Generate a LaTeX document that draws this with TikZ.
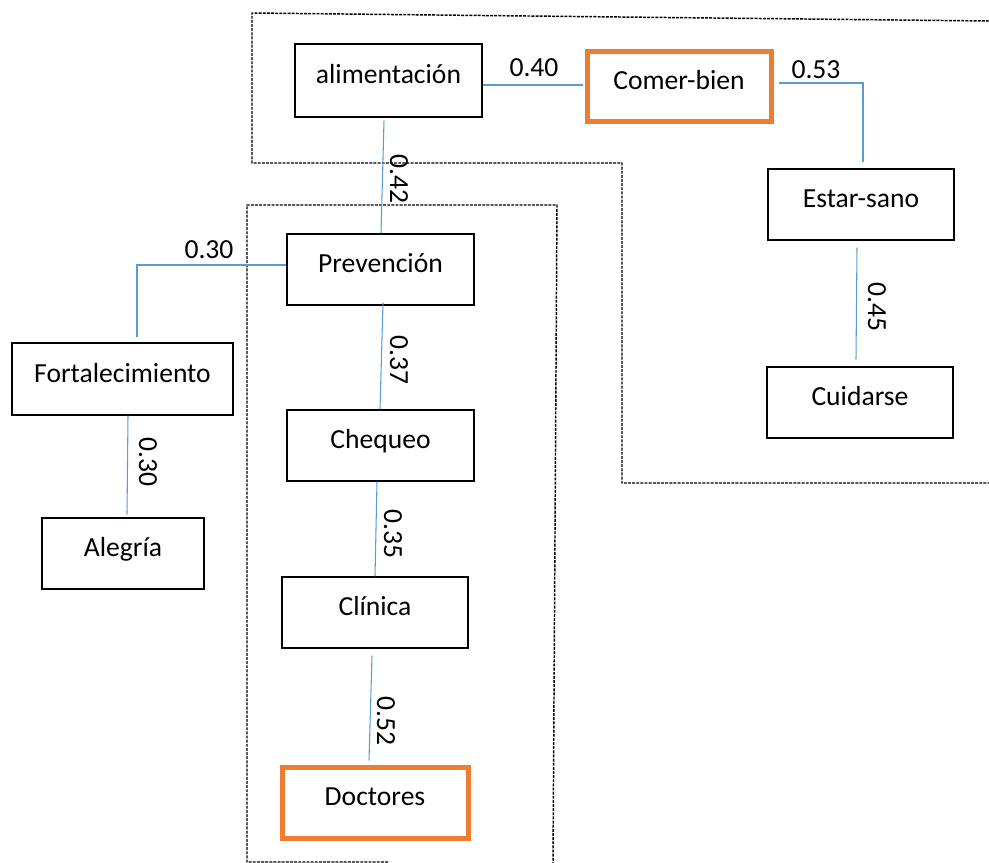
\documentclass[tikz,border=0pt]{standalone}
\usepackage{fontspec}
\setmainfont{Carlito}
\usetikzlibrary{calc}
\definecolor{linkblue}{HTML}{5B9BD5}
\definecolor{accent}{HTML}{ED7D31}
\begin{document}
\begin{tikzpicture}[x=0.75pt,y=-0.75pt,
  every node/.style={font=\fontsize{20.7pt}{24pt}\selectfont, inner sep=0pt},
  concept/.style={draw=black, line width=1pt, text height=15pt, text depth=10.5pt,
                  minimum width=139.5pt, minimum height=53.25pt},
  key/.style={concept, draw=accent, line width=3.75pt},
  conn/.style={draw=linkblue, line width=0.8pt},
  zone/.style={draw=black, line width=1.1pt, dash pattern=on 2.2pt off 0.9pt},
  weight/.style={},
  vweight/.style={rotate=-90}]
\useasboundingbox (0,0) rectangle (989,863);

% dashed grouping outlines
\draw[zone] (989,21) -- (252,13) -- (252,163) -- (622,163) -- (622,483) -- (989,483);
\draw[zone] (388,862) -- (247,862) -- (247,205) -- (557,205) -- (553,863);

% concepts
\node[concept, minimum width=140.25pt, minimum height=54.75pt] (alim) at (388.5,80.5) {alimentación};
\node[key, minimum width=138pt, minimum height=52.5pt] (comer) at (679,87) {Comer-bien};
\node[concept] (estar) at (861,204.5) {Estar-sano};
\node[concept] (cuid) at (860,402.5) {Cuidarse};
\node[concept, minimum width=140.25pt] (prev) at (380.5,269.5) {Prevención};
\node[concept, minimum width=165.75pt, minimum height=54pt] (fort) at (122.5,379) {Fortalecimiento};
\node[concept, minimum width=121.5pt] (aleg) at (123,553.5) {Alegría};
\node[concept, minimum width=140.25pt] (cheq) at (380.5,445.5) {Chequeo};
\node[concept] (clin) at (375,612.5) {Clínica};
\node[key] (doct) at (375,802.5) {Doctores};

% links
\draw[conn] (alim.east |- 0,85) -- ($(comer.west |- 0,85)+(-2,0)$);
\draw[conn] ($(comer.east |- 0,83)+(5,0)$) -| ($(estar.north -| 863,0)+(0,-6)$);
\draw[conn] ($(alim.south -| 384,0)+(0,3)$) -- (prev.north -| 381,0);
\draw[conn] (prev.west |- 0,265) -| ($(fort.north -| 137,0)+(0,-5)$);
\draw[conn] (fort.south -| 128,0) -- ($(aleg.north -| 127,0)+(0,-3)$);
\draw[conn] ($(prev.south -| 383,0)+(0,-3)$) -- (cheq.north -| 380,0);
\draw[conn] (cheq.south -| 377,0) -- (clin.north -| 375,0);
\draw[conn] ($(clin.south -| 372,0)+(0,7)$) -- ($(doct.north -| 369,0)+(0,-4)$);
\draw[conn] ($(estar.south -| 857,0)+(0,7)$) -- ($(cuid.north -| 856,0)+(0,-7)$);

% weights
\node[weight] (w1) at (534,68) {0.40};
\node[weight] (w2) at (816,70) {0.53};
\node[vweight] (w3) at (399,179) {0.42};
\node[weight] (w4) at (209,250) {0.30};
\node[vweight] (w5) at (148,462) {0.30};
\node[vweight] (w6) at (399,360) {0.37};
\node[vweight] (w7) at (393,534) {0.35};
\node[vweight] (w8) at (386,721) {0.52};
\node[vweight] (w9) at (877,307) {0.45};
\end{tikzpicture}
\end{document}
